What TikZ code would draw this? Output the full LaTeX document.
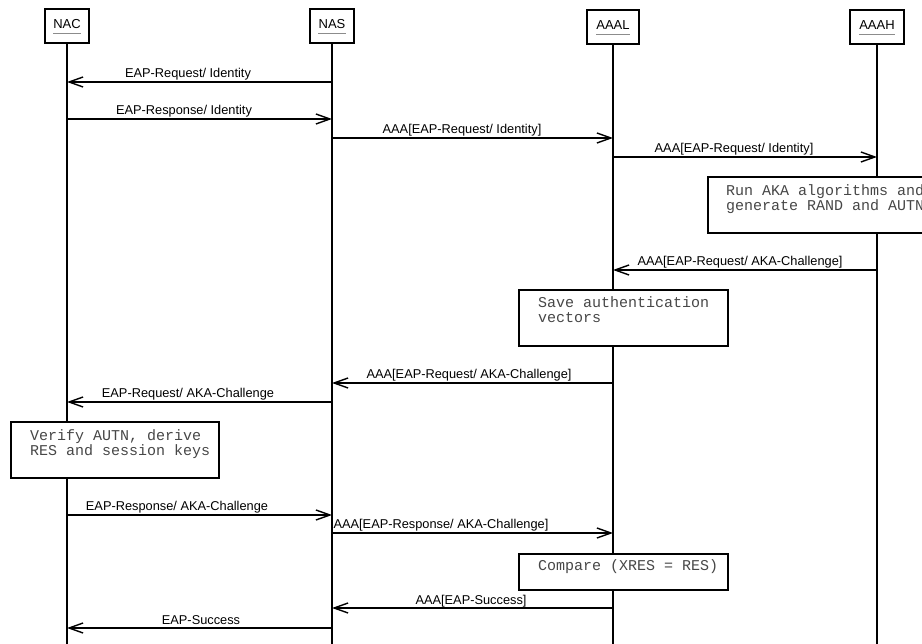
\documentclass[tikz,border=0pt]{standalone}
\usepackage{fontspec}
\setmainfont{Liberation Sans}
\newfontfamily\monof{Liberation Mono}
\usetikzlibrary{arrows.meta}
\tikzset{
  actorbox/.style={draw, line width=1.8pt, minimum height=34pt, inner sep=0pt},
  actortxt/.style={font=\fontsize{13}{14}\selectfont, inner sep=0pt, anchor=base},
  uline/.style={draw=black!45, line width=1.1pt},
  life/.style={line width=1.7pt},
  msg/.style={line width=1.7pt, -{Straight Barb[length=14pt,width=10pt,line width=1.4pt]}},
  lbl/.style={font=\fontsize{12.8}{14}\selectfont, anchor=base, inner sep=0pt},
  notebox/.style={draw, line width=1.8pt, fill=white, anchor=north west, inner sep=0pt},
  notetxt/.style={font=\monof\fontsize{15}{15.5}\selectfont, text=black!72, anchor=base west, inner sep=0pt, align=left},
}
\newcommand\seqmsg[6]{%
  \coordinate (#1) at (0,#4);
  \draw[msg] (#2 |- #1) -- (#3 |- #1);
  \node[lbl] (#1l) at (#5,#4-4) {#6};
}
\begin{document}
\begin{tikzpicture}[x=1pt,y=-1pt]
\clip (0,0) rectangle (922,644);
\fill[white] (0,0) rectangle (922,644);
\coordinate (bottom) at (0,650);

% actors
\node[actorbox, minimum width=44pt] (NAC) at (67,26) {};
\node[actortxt] (NACt) at (67,29) {NAC};
\node[actorbox, minimum width=44pt] (NAS) at (332,26) {};
\node[actortxt] (NASt) at (332,29) {NAS};
\node[actorbox, minimum width=52pt] (AAAL) at (613,27) {};
\node[actortxt] (AAALt) at (613,30) {AAAL};
\node[actorbox, minimum width=54pt] (AAAH) at (877,27) {};
\node[actortxt] (AAAHt) at (877,30) {AAAH};
\foreach \a in {NACt,NASt,AAALt,AAAHt}{
  \draw[uline] ([yshift=-4.5pt]\a.base west) -- ([yshift=-4.5pt]\a.base east);
}

% lifelines
\foreach \a in {NAC,NAS,AAAL,AAAH}{
  \draw[life] (\a.south) -- (\a.south |- bottom);
}

% messages
\seqmsg{m1}{NAS}{NAC}{82}{188}{EAP-Request/ Identity}
\seqmsg{m2}{NAC}{NAS}{119}{184}{EAP-Response/ Identity}
\seqmsg{m3}{NAS}{AAAL}{138}{462}{AAA[EAP-Request/ Identity]}
\seqmsg{m4}{AAAL}{AAAH}{157}{734}{AAA[EAP-Request/ Identity]}

\node[notebox, minimum width=300pt, minimum height=56pt] (runbox) at (707,176) {};
\node[notetxt] (runtxt) at (726,211) {Run AKA algorithms and\\generate RAND and AUTN};

\seqmsg{m5}{AAAH}{AAAL}{270}{740}{AAA[EAP-Request/ AKA-Challenge]}

\node[notebox, minimum width=209pt, minimum height=56pt] (savebox) at (518,289) {};
\node[notetxt] (savetxt) at (538,323) {Save authentication\\vectors};

\seqmsg{m6}{AAAL}{NAS}{383}{469}{AAA[EAP-Request/ AKA-Challenge]}
\seqmsg{m7}{NAS}{NAC}{402}{188}{EAP-Request/ AKA-Challenge}

\node[notebox, minimum width=208pt, minimum height=56pt] (verbox) at (10,421) {};
\node[notetxt] (vertxt) at (30,456) {Verify AUTN, derive\\RES and session keys};

\seqmsg{m8}{NAC}{NAS}{515}{177}{EAP-Response/ AKA-Challenge}
\seqmsg{m9}{NAS}{AAAL}{533}{441}{AAA[EAP-Response/ AKA-Challenge]}

\node[notebox, minimum width=209pt, minimum height=36pt] (cmpbox) at (518,553) {};
\node[notetxt] (cmptxt) at (538,570) {Compare (XRES = RES)};

\seqmsg{m10}{AAAL}{NAS}{608}{471}{AAA[EAP-Success]}
\seqmsg{m11}{NAS}{NAC}{628}{201}{EAP-Success}
\end{tikzpicture}
\end{document}
